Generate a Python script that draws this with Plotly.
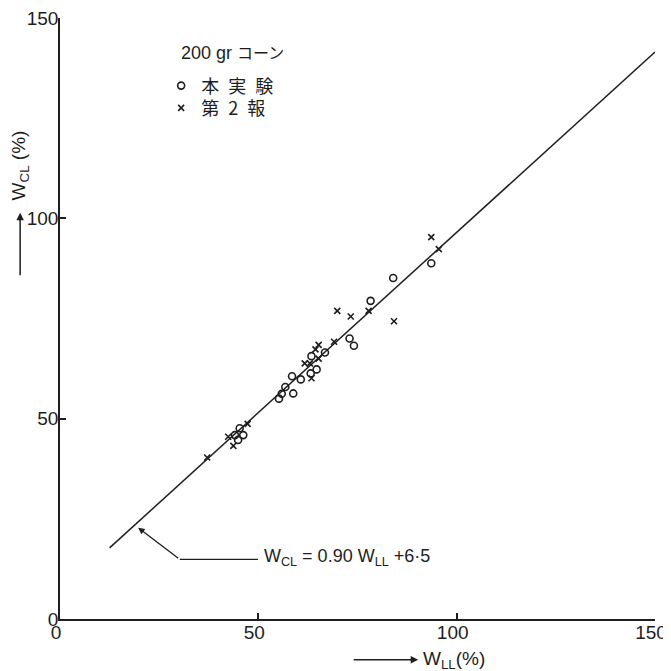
import plotly.graph_objects as go

# --- data ---
honjikken_wll = [93.6, 84.0, 78.3, 73.0, 74.1, 66.8, 63.4, 64.7, 63.2, 60.7, 58.5,
                 56.8, 55.9, 55.2, 58.8, 45.3, 46.2, 44.1, 44.9]
honjikken_wcl = [88.8, 85.1, 79.4, 70.0, 68.2, 66.5, 65.6, 62.3, 61.3, 59.8, 60.6,
                 57.9, 56.2, 55.0, 56.3, 47.6, 45.9, 45.9, 44.7]

dai2ho_wll = [93.6, 95.5, 69.9, 73.3, 77.8, 84.2, 69.1, 65.2, 64.4, 65.2, 61.7,
              63.0, 63.4, 47.3, 42.4, 43.7, 37.1]
dai2ho_wcl = [95.3, 92.3, 76.9, 75.5, 76.9, 74.3, 69.2, 68.4, 67.3, 65.0, 63.8,
              63.8, 60.1, 48.7, 45.5, 43.2, 40.3]

fit_slope = 0.90
fit_intercept = 6.5
fit_wll_range = [12.5, 150]

tick_vals = [0, 50, 100, 150]
tick_text = ["0", "50", "100", "150"]

INK = "#1e1e1e"
FONT = "Liberation Sans"
CJK = "Noto Sans CJK JP"

fit_wcl = [fit_slope * x + fit_intercept for x in fit_wll_range]

fig = go.Figure()

fig.add_trace(go.Scatter(
    x=fit_wll_range, y=fit_wcl, mode="lines",
    line=dict(color=INK, width=1.5), showlegend=False, hoverinfo="skip"))

fig.add_trace(go.Scatter(
    x=honjikken_wll, y=honjikken_wcl, mode="markers",
    name="本\u2002実\u2002験", legend="legend",
    marker=dict(symbol="circle-open", size=7, color=INK, line=dict(width=1.6, color=INK))))

fig.add_trace(go.Scatter(
    x=dai2ho_wll, y=dai2ho_wcl, mode="markers",
    name="第\u20022\u2002報", legend="legend2",
    marker=dict(symbol="x-thin-open", size=6, color=INK, line=dict(width=1.6, color=INK))))

axis_common = dict(
    range=[0, 150], tickvals=tick_vals, ticktext=tick_text, automargin=False,
    showgrid=False, zeroline=False, showline=True, linecolor=INK, linewidth=1.5,
    ticks="inside", ticklen=6, tickwidth=1.5, tickcolor=INK,
    ticklabeloverflow="allow",
    tickfont=dict(family=FONT, size=19, color=INK),
)

legend_common = dict(
    xanchor="left", yanchor="middle",
    bgcolor="rgba(0,0,0,0)", borderwidth=0,
    font=dict(family=CJK, size=18, color=INK),
    itemwidth=30,
)

# page body adds an 8px offset, so the figure is drawn 8px smaller with trimmed margins
fig.update_layout(
    width=663, height=663,
    margin=dict(l=52, r=16, t=10, b=52, autoexpand=False),
    paper_bgcolor="white", plot_bgcolor="white",
    font=dict(family=FONT, size=19, color=INK),
    legend=dict(x=0.17, y=0.887, **legend_common),
    legend2=dict(x=0.17, y=0.850, **legend_common),
    xaxis=dict(axis_common, ticklabelstandoff=-5, ticklabelshift=-4),
    yaxis=dict(axis_common, ticklabelstandoff=-4),
)

# legend heading
fig.add_annotation(xref="paper", yref="paper", x=0.2, y=0.942,
                   xanchor="left", yanchor="middle", showarrow=False,
                   text="200 gr <span style='font-size:16px'>コーン</span>",
                   font=dict(family=FONT + ", " + CJK, size=18, color=INK))

# y axis title with upward arrow
fig.add_annotation(xref="paper", yref="paper", x=-0.068, y=0.754,
                   xanchor="center", yanchor="middle",
                   text="W<sub>CL</sub> (%)", textangle=-90, showarrow=False,
                   font=dict(family=FONT, size=19, color=INK))
fig.add_annotation(xref="paper", yref="paper", x=-0.067, y=0.676,
                   ax=0, ay=64, axref="pixel", ayref="pixel",
                   text="", showarrow=True, arrowhead=2, arrowsize=1, arrowwidth=1.5,
                   arrowcolor=INK)

# x axis title with rightward arrow
fig.add_annotation(xref="paper", yref="paper", x=0.606, y=-0.068,
                   xanchor="left", yanchor="middle",
                   text="W<sub>LL</sub>(%)", showarrow=False,
                   font=dict(family=FONT, size=19, color=INK))
fig.add_annotation(xref="paper", yref="paper", x=0.602, y=-0.068,
                   ax=-66, ay=0, axref="pixel", ayref="pixel",
                   text="", showarrow=True, arrowhead=2, arrowsize=1, arrowwidth=1.5,
                   arrowcolor=INK)

# regression equation with bent leader arrow
fig.add_shape(type="line", xref="x", yref="y", x0=30.2, y0=14.9, x1=49.9, y1=14.9,
              line=dict(color=INK, width=1.3))
fig.add_annotation(xref="x", yref="y", x=19.7, y=22.8, ax=30.2, ay=14.9,
                   axref="x", ayref="y", text="", showarrow=True,
                   arrowhead=2, arrowsize=1, arrowwidth=1.3, arrowcolor=INK)
fig.add_annotation(xref="x", yref="y", x=51.0, y=15.3, xanchor="left", yanchor="middle",
                   text="W<sub>CL</sub> = 0.90 W<sub>LL</sub> +6·5", showarrow=False,
                   font=dict(family=FONT, size=18, color=INK))

fig.write_html("out.html")
